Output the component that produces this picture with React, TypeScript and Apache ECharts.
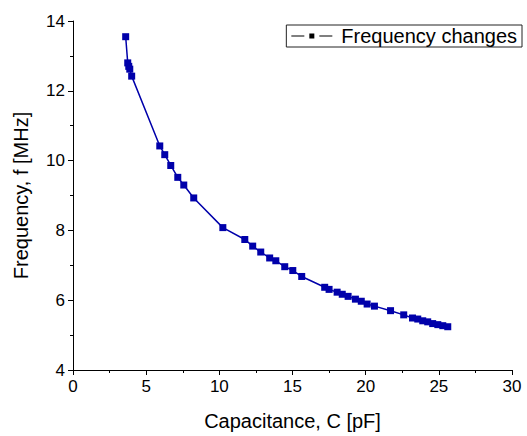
import React, { useEffect, useRef } from "react";
import * as echarts from "echarts";

const capacitance = [
  3.60, 3.74, 3.81, 3.88, 4.01, 5.93, 6.27, 6.68, 7.16, 7.57, 8.25,
  10.24, 11.74, 12.28, 12.83, 13.44, 13.86, 14.47, 15.02, 15.63,
  17.20, 17.50, 18.05, 18.40, 18.80, 19.30, 19.70, 20.10, 20.60,
  21.70, 22.60, 23.20, 23.56, 23.90, 24.24, 24.58, 24.93, 25.27, 25.61,
];
const frequency = [
  13.55, 12.80, 12.70, 12.62, 12.42, 10.42, 10.17, 9.86, 9.52, 9.30, 8.93,
  8.08, 7.74, 7.55, 7.38, 7.21, 7.13, 6.96, 6.85, 6.68,
  6.37, 6.31, 6.23, 6.17, 6.11, 6.03, 5.97, 5.89, 5.83,
  5.70, 5.58, 5.49, 5.46, 5.41, 5.38, 5.33, 5.30, 5.27, 5.24,
];
const seriesName = "Frequency changes";
const xTitle = "Capacitance, C [pF]";
const yTitle = "Frequency, f [MHz]";

const FONT = "'Liberation Sans', Arial, sans-serif";
const BLUE = "#0000AA";
// legend glyph: short line, small square, short line (black)
const LEGEND_ICON =
  "path://M0,3.5 H13 V4.5 H0 Z M18,1.5 H23 V6.5 H18 Z M28,3.5 H41 V4.5 H28 Z M45,4 H45 Z";

export default function App() {
  const ref = useRef<HTMLDivElement>(null);
  useEffect(() => {
    if (!ref.current) return;
    const chart = echarts.init(ref.current, undefined, { renderer: "svg" });
    const data = capacitance.map((c, i) => [c, frequency[i]]);
    chart.setOption({
      animation: false,
      backgroundColor: "#fff",
      textStyle: { fontFamily: FONT },
      grid: { left: 73, right: 15, top: 21, bottom: 60, containLabel: false },
      legend: {
        right: 5,
        top: 25,
        orient: "horizontal",
        borderColor: "#222",
        borderWidth: 1,
        borderRadius: 0,
        padding: [1, 5, 1, 5],
        icon: LEGEND_ICON,
        itemWidth: 45,
        itemHeight: 8,
        itemGap: 4,
        itemStyle: { color: "#000", borderWidth: 0 },
        textStyle: { fontSize: 20, color: "#000", fontFamily: FONT },
        data: [seriesName],
      },
      xAxis: {
        type: "value",
        min: 0,
        max: 30,
        interval: 5,
        name: xTitle,
        nameLocation: "middle",
        nameGap: 41,
        nameTextStyle: { fontSize: 20, color: "#000", fontFamily: FONT },
        axisLine: { show: true, onZero: false, lineStyle: { color: "#000", width: 1 } },
        axisTick: { show: true, inside: false, length: 5, lineStyle: { color: "#000" } },
        minorTick: { show: true, splitNumber: 2, length: 3, lineStyle: { color: "#000" } },
        axisLabel: { fontSize: 17, color: "#000", margin: 8, fontFamily: FONT },
        splitLine: { show: false },
      },
      yAxis: {
        type: "value",
        min: 4,
        max: 14,
        interval: 2,
        name: yTitle,
        nameLocation: "middle",
        nameGap: 42,
        nameRotate: 90,
        nameTextStyle: { fontSize: 20, color: "#000", fontFamily: FONT },
        axisLine: { show: true, onZero: false, lineStyle: { color: "#000", width: 1 } },
        axisTick: { show: true, inside: false, length: 5, lineStyle: { color: "#000" } },
        minorTick: { show: true, splitNumber: 2, length: 3, lineStyle: { color: "#000" } },
        axisLabel: { fontSize: 17, color: "#000", margin: 8, fontFamily: FONT },
        splitLine: { show: false },
      },
      series: [
        {
          name: seriesName,
          type: "line",
          data,
          symbol: "rect",
          symbolSize: 7,
          showSymbol: true,
          lineStyle: { color: BLUE, width: 1.5 },
          itemStyle: { color: BLUE },
        },
      ],
    });
    return () => chart.dispose();
  }, []);
  return <div ref={ref} style={{ width: 527, height: 436, position: "absolute", left: 0, top: 0 }} />;
}
